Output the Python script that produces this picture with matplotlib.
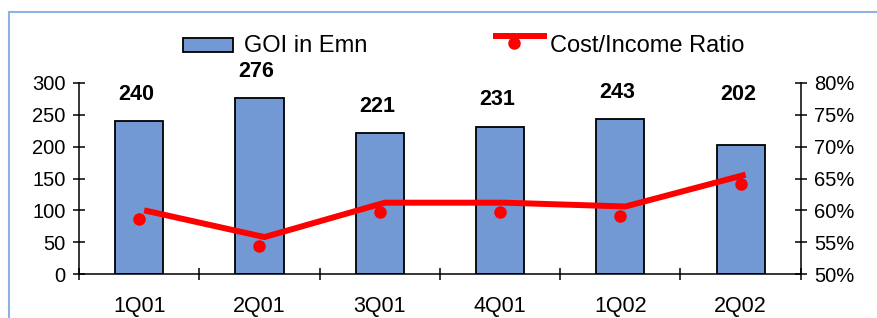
import numpy as np
import matplotlib.pyplot as plt
from matplotlib.transforms import offset_copy
from matplotlib.lines import Line2D
from matplotlib.patches import Rectangle

quarters = ['1Q01', '2Q01', '3Q01', '4Q01', '1Q02', '2Q02']
goi = [240, 276, 221, 231, 243, 202]
cost_income = [58.6, 54.4, 59.8, 59.8, 59.2, 64.2]
label_lift = [12, 12, 12, 12, 12, 29]  # points between bar top and value label

plt.rcParams['font.family'] = ['Liberation Sans', 'DejaVu Sans']

fig = plt.figure(figsize=(8.78, 3.18), dpi=100)
ax = fig.add_axes([0.090, 0.138, 0.822, 0.601])
ax2 = ax.twinx()

x = np.arange(len(quarters))
ax.bar(x, goi, width=0.4, color='#7399D4', edgecolor='black', linewidth=1.3, zorder=2)
for xi, v, lift in zip(x, goi, label_lift):
    ax.annotate(str(v), (xi, v), xytext=(-2, lift), textcoords='offset points',
                ha='center', va='bottom', fontsize=15.5, fontweight='bold')

ax.set_xlim(-0.5, len(quarters) - 0.5)
ax.set_ylim(0, 300)
ax.set_yticks(np.arange(0, 301, 50))
ax.set_xticks(x)
ax.set_xticklabels(quarters, fontsize=15.5)
ax.set_xticks(np.arange(-0.5, len(quarters), 1), minor=True)
ax.tick_params(axis='x', which='major', length=0, pad=16)
ax.tick_params(axis='x', which='minor', length=9, width=1.1, direction='inout')
ax.tick_params(axis='y', length=9, width=1.1, direction='inout', labelsize=14.5, pad=5)

# red ratio line is drawn slightly shifted from its dots, as in the source
shifted = offset_copy(ax2.transData, fig=fig, x=5, y=9, units='dots')
ax2.plot(x, cost_income, color='red', lw=4.3, transform=shifted, solid_capstyle='butt', zorder=3)
ax2.plot(x, cost_income, 'o', color='red', ms=8, zorder=4)
ax2.set_ylim(50, 80)
ax2.set_yticks(np.arange(50, 81, 5))
ax2.set_yticklabels([f'{t}%' for t in range(50, 81, 5)])
ax2.tick_params(axis='y', length=9, width=1.1, direction='inout', labelsize=14.5, pad=5)

for a in (ax, ax2):
    a.spines['top'].set_visible(False)
    for s in a.spines.values():
        s.set_linewidth(1.1)
ax.spines['right'].set_visible(False)
ax2.spines['left'].set_visible(False)
ax2.spines['bottom'].set_visible(False)

# legend, drawn by hand
fig.add_artist(Rectangle((0.2084, 0.8365), 0.057, 0.044, transform=fig.transFigure,
                         facecolor='#7399D4', edgecolor='black', lw=1.3))
fig.text(0.278, 0.855, 'GOI in Emn', fontsize=17, va='center')
fig.add_artist(Line2D([0.5615, 0.623], [0.888, 0.888], transform=fig.transFigure,
                      color='red', lw=4.3, solid_capstyle='butt'))
fig.add_artist(Line2D([0.5854], [0.866], transform=fig.transFigure,
                      marker='o', color='red', ms=8))
fig.text(0.6264, 0.855, 'Cost/Income Ratio', fontsize=17, va='center')

# light blue frame at top and left
fig.add_artist(Line2D([0.0097, 1.0], [0.9607, 0.9607], transform=fig.transFigure, color='#8DB3E2', lw=1.5))
fig.add_artist(Line2D([0.0097, 0.0097], [0.0, 0.9607], transform=fig.transFigure, color='#8DB3E2', lw=1.5))

fig.savefig('out.png', dpi=100)
